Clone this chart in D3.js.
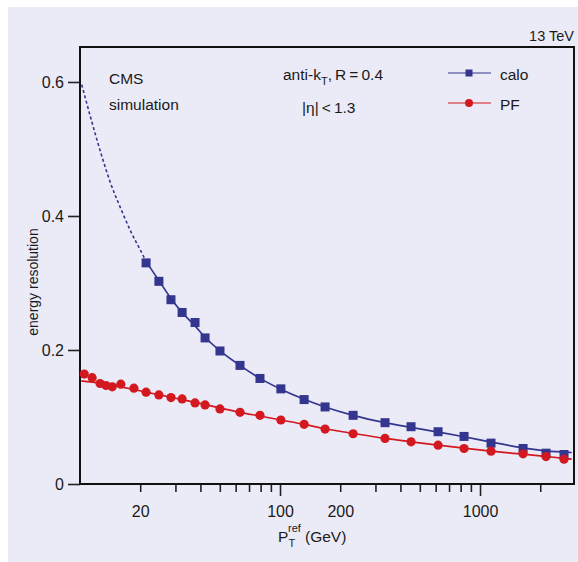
<!DOCTYPE html>
<html>
<head>
<meta charset="utf-8">
<script src="https://cdn.jsdelivr.net/npm/d3@7"></script>
<style>
  html, body { margin: 0; padding: 0; background: #fff; }
  svg text { font-family: "Liberation Sans", Arial, sans-serif; fill: #1a1a1a; }
</style>
</head>
<body>
<div id="chart"></div>
<script>
// measured points (pT in GeV, resolution)
const caloPt  = [21.4, 24.8, 28.5, 32.4, 37.6, 42.2, 50.1, 63.1, 79.4, 101, 132, 168, 232, 335, 452, 617, 832, 1135, 1641, 2138, 2630];
const caloRes = [0.330, 0.3025, 0.275, 0.256, 0.241, 0.218, 0.1985, 0.177, 0.1575, 0.142, 0.126, 0.115, 0.1025, 0.0915, 0.0855, 0.078, 0.071, 0.061, 0.053, 0.046, 0.044];

const pfPt  = [10.5, 11.5, 12.6, 13.5, 14.5, 16.0, 18.6, 21.4, 24.8, 28.5, 32.4, 37.6, 42.2, 50.1, 63.1, 79.4, 101, 132, 168, 232, 335, 452, 617, 832, 1135, 1641, 2138, 2630];
const pfRes = [0.164, 0.1587, 0.150, 0.147, 0.145, 0.149, 0.143, 0.137, 0.133, 0.129, 0.127, 0.121, 0.118, 0.112, 0.107, 0.1025, 0.0955, 0.089, 0.082, 0.075, 0.068, 0.063, 0.058, 0.053, 0.049, 0.045, 0.041, 0.037];

// fitted curves
const caloFitPt  = [10.2, 11.4, 12.8, 14.3, 16.1, 18.0, 20.6, 21.4, 25, 28.5, 32.4, 37.6, 42.2, 50, 63, 79, 101, 132, 168, 232, 335, 452, 617, 832, 1135, 1641, 2138, 2873];
const caloFitRes = [0.596, 0.543, 0.491, 0.447, 0.409, 0.376, 0.342, 0.332, 0.302, 0.277, 0.256, 0.236, 0.219, 0.199, 0.177, 0.158, 0.1415, 0.1265, 0.115, 0.1025, 0.0915, 0.0845, 0.0775, 0.0705, 0.0625, 0.054, 0.0495, 0.047];
const caloSolidFrom = 21.4; // below this the calo fit is dashed

const pfFitPt  = [10.15, 12.6, 14.5, 16, 18.6, 21.4, 25, 28.5, 32.4, 37.6, 42.2, 50, 63, 79, 101, 132, 168, 232, 335, 452, 617, 832, 1135, 1641, 2138, 2873];
const pfFitRes = [0.154, 0.1505, 0.1475, 0.145, 0.141, 0.137, 0.133, 0.1295, 0.126, 0.122, 0.1185, 0.1135, 0.107, 0.1015, 0.0955, 0.089, 0.0825, 0.0755, 0.068, 0.063, 0.058, 0.0535, 0.049, 0.0445, 0.041, 0.037];

const xTicks = [20, 30, 40, 50, 60, 70, 80, 90, 100, 200, 300, 400, 500, 600, 700, 800, 900, 1000, 2000];
const xLabels = [20, 100, 200, 1000];
const yTicks = [0, 0.2, 0.4, 0.6];

const W = 578, H = 562;
const blue = '#33358f', red = '#d3181f';

const svg = d3.select('#chart').append('svg')
  .attr('width', W).attr('height', H);

svg.append('rect').attr('x', 8).attr('y', 7).attr('width', W - 8).attr('height', H - 7)
  .attr('fill', '#ebebf7');

const x = d3.scaleLog().domain([10, 2950]).range([80, 574]);
const y = d3.scaleLinear().domain([0, 0.6522]).range([484, 47]);

// axes
const xAxis = svg.append('g')
  .attr('transform', 'translate(0,484)')
  .call(d3.axisBottom(x).tickValues(xTicks).tickSize(8).tickSizeOuter(0)
    .tickFormat(d => xLabels.includes(d) ? d : ''));
xAxis.selectAll('.tick line').attr('stroke', '#222').attr('stroke-width', 1.6)
  .attr('y2', d => (d === 100 || d === 1000) ? 12 : 8);
xAxis.selectAll('.tick text').attr('font-size', 16).attr('dy', 0).attr('y', 32.5);
xAxis.select('.domain').remove();

const yAxis = svg.append('g')
  .attr('transform', 'translate(80,0)')
  .call(d3.axisLeft(y).tickValues(yTicks).tickSize(12).tickSizeOuter(0).tickPadding(4)
    .tickFormat(d => d === 0 ? '0' : d.toFixed(1)));
yAxis.selectAll('.tick line').attr('stroke', '#222').attr('stroke-width', 1.6);
yAxis.selectAll('.tick text').attr('font-size', 16).attr('dy', '0.36em');
yAxis.select('.domain').remove();

// frame
svg.append('rect').attr('x', 80).attr('y', 47).attr('width', 494).attr('height', 437)
  .attr('fill', 'none').attr('stroke', '#111').attr('stroke-width', 2);

const line = d3.line().x(d => x(d[0])).y(d => y(d[1])).curve(d3.curveMonotoneX);

const caloFit = caloFitPt.map((p, i) => [p, caloFitRes[i]]);
svg.append('path').datum(caloFit.filter(d => d[0] <= caloSolidFrom))
  .attr('d', line).attr('fill', 'none').attr('stroke', blue)
  .attr('stroke-width', 1.6).attr('stroke-dasharray', '3,2.5');
svg.append('path').datum(caloFit.filter(d => d[0] >= caloSolidFrom))
  .attr('d', line).attr('fill', 'none').attr('stroke', blue).attr('stroke-width', 1.7);

svg.append('path').datum(pfFitPt.map((p, i) => [p, pfFitRes[i]]))
  .attr('d', line).attr('fill', 'none').attr('stroke', red).attr('stroke-width', 1.7);

// markers
svg.append('g').selectAll('rect')
  .data(caloPt.map((p, i) => [p, caloRes[i]]))
  .enter().append('rect')
  .attr('x', d => x(d[0]) - 4.5).attr('y', d => y(d[1]) - 4.5)
  .attr('width', 9).attr('height', 9).attr('fill', blue);

svg.append('g').selectAll('circle')
  .data(pfPt.map((p, i) => [p, pfRes[i]]))
  .enter().append('circle')
  .attr('cx', d => x(d[0])).attr('cy', d => y(d[1]))
  .attr('r', 4.6).attr('fill', red);

// legend
const legend = [
  { name: 'calo', color: blue, shape: 'square', y: 73 },
  { name: 'PF', color: red, shape: 'circle', y: 103 }
];
legend.forEach(l => {
  svg.append('line').attr('x1', 448).attr('x2', 491).attr('y1', l.y).attr('y2', l.y)
    .attr('stroke', l.color).attr('stroke-width', 1.2);
  if (l.shape === 'square') {
    svg.append('rect').attr('x', 465.5).attr('y', l.y - 3.5).attr('width', 7).attr('height', 7).attr('fill', l.color);
  } else {
    svg.append('circle').attr('cx', 469).attr('cy', l.y).attr('r', 4).attr('fill', l.color);
  }
  svg.append('text').attr('x', 500).attr('y', l.y + 6.5).attr('font-size', 15.5).text(l.name);
});

// labels
svg.append('text').attr('x', 109).attr('y', 83.5).attr('font-size', 15.5).text('CMS');
svg.append('text').attr('x', 109).attr('y', 110).attr('font-size', 15.5).text('simulation');

const jet = svg.append('text').attr('x', 283).attr('y', 80).attr('font-size', 15.5);
jet.append('tspan').text('anti-k');
jet.append('tspan').attr('font-size', 11).attr('dy', 4.5).text('T');
jet.append('tspan').attr('dy', -4.5).text(',\u2009R\u2009=\u20090.4');

svg.append('text').attr('x', 302).attr('y', 112.5).attr('font-size', 15.5).text('|\u03b7|\u2009<\u20091.3');

svg.append('text').attr('x', 574).attr('y', 40.5).attr('text-anchor', 'end')
  .attr('font-size', 14.5).text('13 TeV');

svg.append('text').attr('x', 278).attr('y', 542).attr('font-size', 15.5).text('P');
svg.append('text').attr('x', 288).attr('y', 532).attr('font-size', 11).text('ref');
svg.append('text').attr('x', 288.5).attr('y', 547).attr('font-size', 11).text('T');
svg.append('text').attr('x', 305).attr('y', 542).attr('font-size', 15.5).text('(GeV)');

svg.append('text').attr('transform', 'translate(38,282) rotate(-90)')
  .attr('text-anchor', 'middle').attr('font-size', 14).text('energy resolution');
</script>
</body>
</html>
